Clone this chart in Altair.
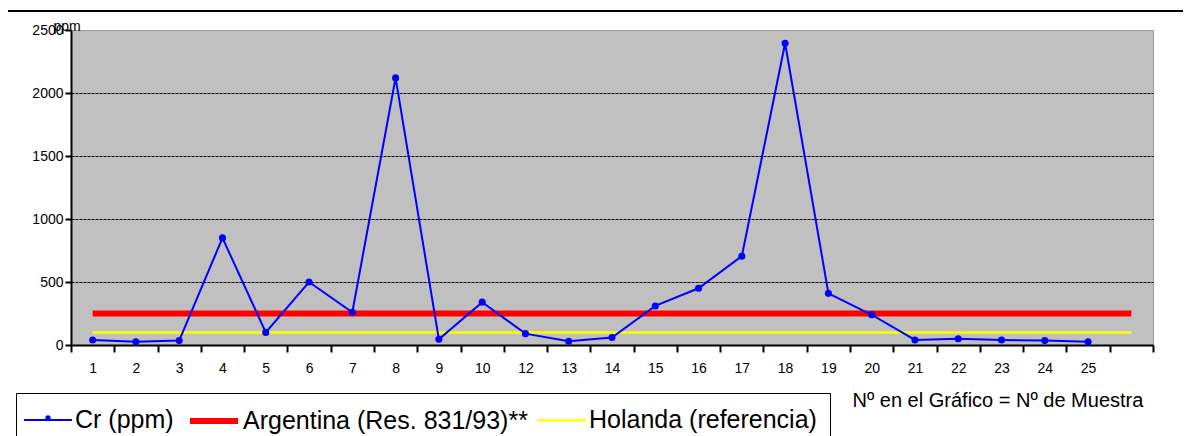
import altair as alt
import pandas as pd

# ---- data ----
muestras = ["1", "2", "3", "4", "5", "6", "7", "8", "9", "10", "12", "13",
            "14", "15", "16", "17", "18", "19", "20", "21", "22", "23", "24", "25"]
cr_ppm = [40, 25, 35, 850, 100, 500, 260, 2120, 45, 340, 90, 30,
          60, 310, 450, 705, 2395, 410, 240, 40, 50, 40, 35, 25]
categorias_eje = muestras + [" "]          # last band is empty in the original
limite_argentina = 250
referencia_holanda = 100

series = ["Cr (ppm)", "Argentina (Res. 831/93)**", "Holanda (referencia)"]
colores = ["#0000FF", "#FF0000", "#FFFF00"]
grosores = [2, 6, 2.5]
y_ticks = [0, 500, 1000, 1500, 2000, 2500]

rows = []
for m, v in zip(muestras, cr_ppm):
    rows.append({"muestra": m, "valor": v, "serie": series[0]})
for m in categorias_eje:
    rows.append({"muestra": m, "valor": limite_argentina, "serie": series[1]})
    rows.append({"muestra": m, "valor": referencia_holanda, "serie": series[2]})
df = pd.DataFrame(rows)
df_cr = df[df["serie"] == series[0]]

FONT = "Liberation Sans"

x_enc = alt.X(
    "muestra:N",
    sort=categorias_eje,
    scale=alt.Scale(type="band", domain=categorias_eje, paddingInner=0, paddingOuter=0),
    axis=alt.Axis(
        title="Nº en el Gráfico = Nº de Muestra",
        titleFontSize=20, titleFontWeight="normal", titleFont=FONT, titleColor="black",
        titleX=781, titleY=55, titleAlign="left", titleBaseline="middle", titleAnchor="start",
        labelAngle=0, labelFontSize=14, labelFont=FONT, labelColor="black", labelPadding=9,
        tickBand="extent", tickSize=7, tickColor="black", tickWidth=2,
        domainColor="black", domainWidth=2, grid=False,
    ),
)
y_enc = alt.Y(
    "valor:Q",
    scale=alt.Scale(domain=[0, 2500], nice=False),
    axis=alt.Axis(
        values=y_ticks, format="d", title="ppm", titleAngle=0, titleFontSize=14,
        titleFontWeight="normal", titleFont=FONT, titleColor="black",
        titleX=-18, titleY=0, titleAlign="left", titleBaseline="alphabetic",
        labelFontSize=14, labelFont=FONT, labelColor="black", labelPadding=2,
        tickSize=6, tickColor="black", tickWidth=2, domainColor="black", domainWidth=2,
        grid=True,
        gridColor={"condition": {"test": "datum.value == 2500", "value": "#A0A0A0"}, "value": "black"},
        gridDash=[3, 1], gridWidth=1,
    ),
)

leg = alt.Legend(
    orient="none", legendX=-55, legendY=363, direction="horizontal", title=None,
    labelFontSize=25, labelFont=FONT, labelColor="black", labelLimit=0,
    symbolType="M-2,0H2", symbolSize=576, symbolOffset=6, labelOffset=14,
    columnPadding=4, strokeColor="black", padding=13,
)

border = alt.Chart(pd.DataFrame({"a": [0]})).mark_rect(
    fill=None, stroke="black", strokeWidth=2
).encode(x=alt.value(-64), x2=alt.value(1400), y=alt.value(-19), y2=alt.value(700))

lineas = alt.Chart(df).mark_line().encode(
    x=x_enc,
    y=y_enc,
    color=alt.Color("serie:N", scale=alt.Scale(domain=series, range=colores), legend=leg,
                    sort=series),
    strokeWidth=alt.StrokeWidth("serie:N",
                                scale=alt.Scale(type="ordinal", domain=series, range=grosores),
                                legend=leg, sort=series),
    detail="serie:N",
)

ref_layer = lineas.transform_filter(alt.FieldOneOfPredicate(field="serie", oneOf=series[1:]))
cr_layer = lineas.transform_filter(alt.FieldEqualPredicate(field="serie", equal=series[0]))

puntos = alt.Chart(df_cr).mark_point(filled=True, size=50, opacity=1, color="#0000FF").encode(
    x=x_enc, y=y_enc
)

# marker dot of the Cr legend symbol (legend decoration)
punto_leyenda = alt.Chart(pd.DataFrame({"a": [0]})).mark_point(
    filled=True, size=28, opacity=1, color="#0000FF"
).encode(x=alt.value(-23), y=alt.value(388))

chart = alt.layer(border, ref_layer, cr_layer, puntos, punto_leyenda).properties(
    width=1082, height=315,
    autosize=alt.AutoSizeParams(type="none"),
    padding={"left": 63, "top": 22, "right": 30, "bottom": 91},
).configure(
    font=FONT
).configure_view(
    fill="#C0C0C0", stroke="#A0A0A0", strokeWidth=1
)

chart.save("out.html", embed_options={"renderer": "svg", "actions": False})
